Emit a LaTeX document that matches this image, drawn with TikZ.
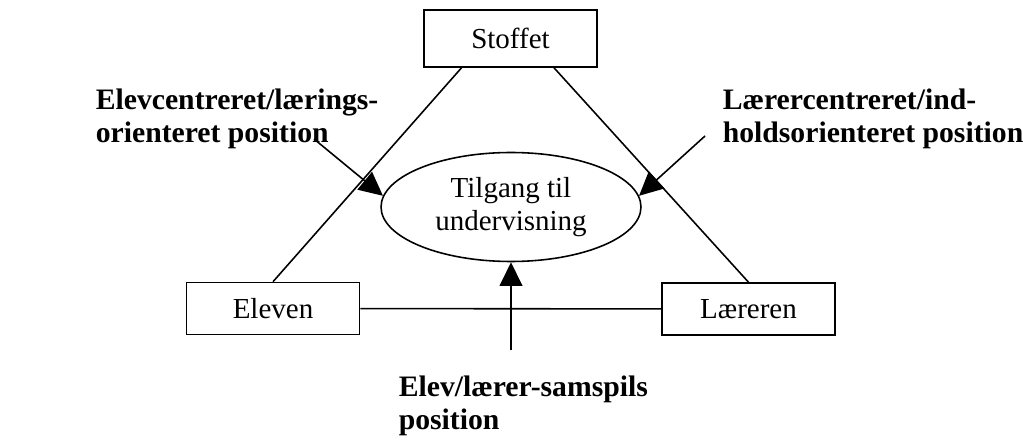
\documentclass[tikz,border=0pt]{standalone}
\usepackage{fontspec}
\setmainfont{Liberation Serif}
\usepackage{tikz}
\usetikzlibrary{arrows.meta, shapes.geometric}

\begin{document}
\begin{tikzpicture}[x=0.02cm, y=-0.02cm, line width=0.9pt,
	boks/.style = {draw, rectangle, minimum width=3.46cm, minimum height=1.04cm, inner sep=0pt},
	tekst/.style = {font=\bfseries\fontsize{16.9pt}{18.8pt}\selectfont, align=left, inner sep=0pt, anchor=west},
	pil/.style = {-{Triangle[length=13.5pt,width=13pt]}}]
	\useasboundingbox (0,0) rectangle (1023,445);
	\fontsize{16.5pt}{18.5pt}\selectfont
					\node[boks, minimum height=1.14cm] (stoffet) at (510.5,38.5) {Stoffet};
					\node[boks] (eleven) at (273,308.5) {Eleven};
					\node[boks] (laereren) at (748.5,309) {Læreren};
					\node[draw, ellipse, minimum width=5.2cm, minimum height=2.18cm, inner sep=0pt, align=center] (tilgang) at (511,207) {Tilgang til\\undervisning};
					\node[tekst] (elevpos) at (95,119) {Elevcentreret/lærings-\\orienteret position};
					\node[tekst] (laererpos) at (722,119) {Lærercentreret/ind-\\holdsorienteret position};
					\node[tekst] (samspil) at (398,406) {Elev/lærer-samspils\\position};
					\coordinate (venstre) at (314,139);
					\coordinate (hoejre) at (705,136);
					\coordinate (bund) at (511,350);
					
					\draw ([xshift=-0.98cm]stoffet.south) -- (eleven.north);
					\draw ([xshift=0.87cm]stoffet.south) -- (laereren.north);
					\draw (eleven) -- (laereren);
					\draw[pil] (venstre) -- (tilgang.175);
					\draw[pil] (hoejre) -- (tilgang.5);
					\draw[pil] (bund) -- (tilgang.south);
				\end{tikzpicture}
\end{document}
